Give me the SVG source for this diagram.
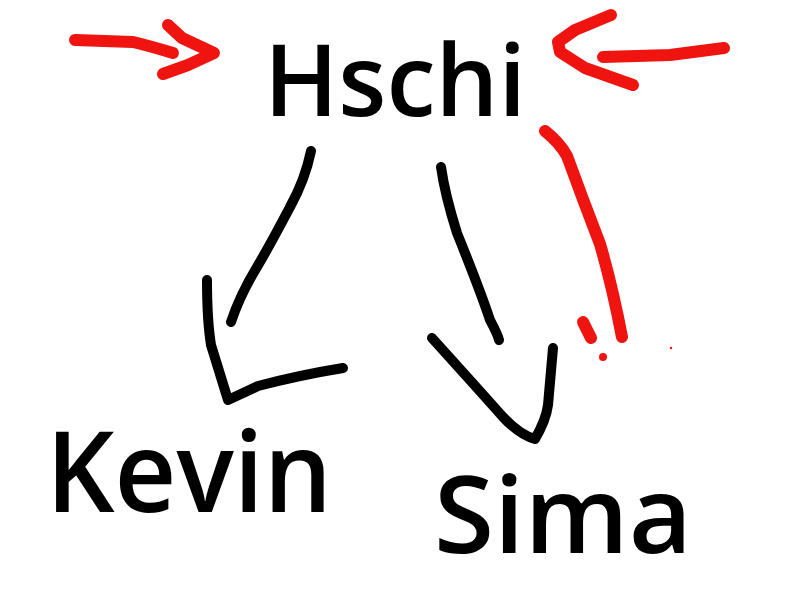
<svg xmlns="http://www.w3.org/2000/svg" width="800" height="600" viewBox="0 0 800 600">
<style>
.ink{fill:none;stroke-linecap:round;stroke-linejoin:round}
.blk{stroke:#000;stroke-width:10}
.red{stroke:#ef1410;stroke-width:12}
.lbl{font-family:"Open Sans","DejaVu Sans",sans-serif;font-weight:600;fill:#000}
</style>
<rect width="800" height="600" fill="#fff"/>
<g id="connectors">
<g id="red-in-left">
<path class="ink red" d="M75,40 L133,42 Q150,46 173,53"/>
<path class="ink red" d="M168,25 L182,38 L214,53 L188,65 L163,74"/>
</g>
<g id="red-in-right">
<path class="ink red" d="M611,15 L575,30 L558,42 L560,52 L585,68 L633,85"/>
<path class="ink red" d="M603,57 L670,55 L724,48"/>
</g>
<g id="red-curve">
<path class="ink red" d="M545,131 Q560,143 567,156 Q583,200 600,244 Q612,285 622,337"/>
<path class="ink red" d="M583,322 L591,338"/>
<circle cx="603" cy="357" r="4" fill="#ef1410"/>
<circle cx="671" cy="348" r="1.2" fill="#ef1410"/>
</g>
<g id="edge-hschi-kevin">
<path class="ink blk" d="M311,151 Q305,180 290,207 Q270,245 257,267 Q240,295 231,322"/>
<path class="ink blk" d="M207,280 Q207,320 211,345 L228,400 L258,386 Q300,375 343,368"/>
</g>
<g id="edge-hschi-sima">
<path class="ink blk" d="M441,167 Q445,195 457,233 Q480,290 490,320 Q498,335 499,340"/>
<path class="ink blk" d="M432,338 Q470,380 503,417 Q520,435 535,439 Q546,420 548,405 L553,348"/>
</g>
</g>
<g id="node-hschi">
<text class="lbl" x="264" y="116" font-size="100" textLength="262" lengthAdjust="spacingAndGlyphs">Hschi</text>
</g>
<g id="node-kevin">
<text class="lbl" x="46" y="512" font-size="112" textLength="286" lengthAdjust="spacingAndGlyphs">Kevin</text>
</g>
<g id="node-sima">
<text class="lbl" x="434" y="553" font-size="106" textLength="258" lengthAdjust="spacingAndGlyphs">Sima</text>
</g>
</svg>
